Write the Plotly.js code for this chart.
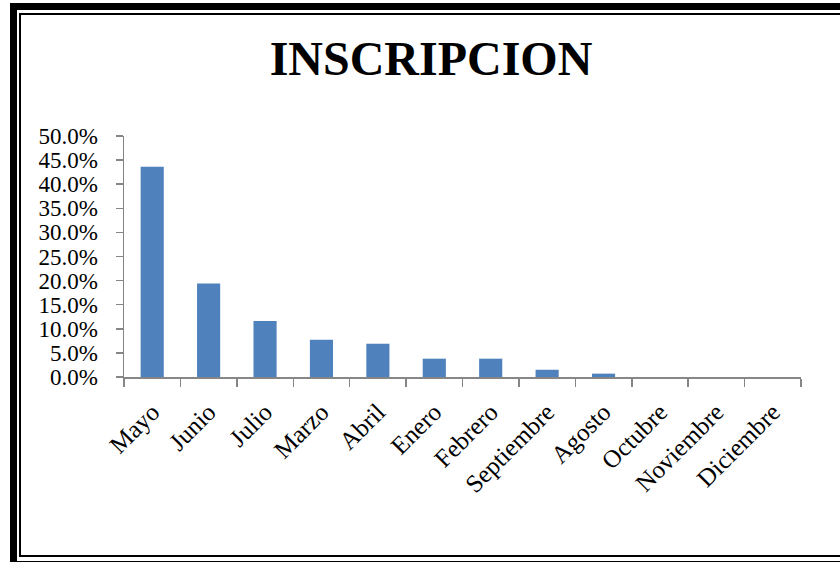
<!DOCTYPE html>
<html>
<head>
<meta charset="utf-8">
<script src="https://cdn.plot.ly/plotly-3.0.1.min.js"></script>
<style>
  html, body { margin: 0; padding: 0; background: #fff; overflow: hidden; }
  #wrap { position: relative; width: 840px; height: 562px; overflow: hidden; }
  #chart { position: absolute; left: 0; top: 0; width: 840px; height: 562px; }
  #outer { position: absolute; left: 10px; top: 3px; width: 900px; height: 551px;
           border-left: 7px solid #000; border-top: 7px solid #000; border-bottom: 3px solid #000;
           pointer-events: none; }
  #inner { position: absolute; left: 19px; top: 13px; width: 900px; height: 540px;
           border-left: 2px solid #000; border-top: 2px solid #000; border-bottom: 2px solid #000;
           pointer-events: none; }
</style>
</head>
<body>
<div id="wrap">
  <div id="chart"></div>
  <div id="outer"></div>
  <div id="inner"></div>
</div>
<script>
const months = ["Mayo","Junio","Julio","Marzo","Abril","Enero","Febrero","Septiembre","Agosto","Octubre","Noviembre","Diciembre"];
const shares = [0.436, 0.194, 0.116, 0.0775, 0.069, 0.038, 0.038, 0.015, 0.007, 0, 0, 0];
const yTicks = [0, 0.05, 0.10, 0.15, 0.20, 0.25, 0.30, 0.35, 0.40, 0.45, 0.50];
const yTickText = ["0.0%","5.0%","10.0%","15.0%","20.0%","25.0%","30.0%","35.0%","40.0%","45.0%","50.0%"];

const serif = "'Liberation Serif', 'Times New Roman', serif";
const axisGray = "#868686";

const data = [{
  type: "bar",
  x: months,
  y: shares,
  marker: { color: "#4F81BD", line: { width: 0 } },
  hoverinfo: "skip"
}];

const layout = {
  width: 840,
  height: 562,
  margin: { l: 124, r: 39, t: 136, b: 185, pad: 0 },
  paper_bgcolor: "#fff",
  plot_bgcolor: "#fff",
  showlegend: false,
  bargap: 0.59,
  title: {
    text: "<b>INSCRIPCION</b>",
    font: { family: serif, size: 48, color: "#000" },
    x: 431 / 840, xref: "container", xanchor: "center",
    y: 1 - 58 / 562, yref: "container", yanchor: "middle"
  },
  xaxis: {
    type: "category",
    tickangle: -45,
    tickson: "boundaries",
    ticks: "outside",
    ticklen: 8,
    tickwidth: 1.5,
    tickcolor: axisGray,
    showline: true,
    linecolor: axisGray,
    linewidth: 1.5,
    showgrid: false,
    zeroline: false,
    ticklabelstandoff: 9,
    tickfont: { family: serif, size: 25, color: "#000" }
  },
  yaxis: {
    range: [0, 0.5],
    tickvals: yTicks,
    ticktext: yTickText,
    ticks: "outside",
    ticklen: 7,
    tickwidth: 1.5,
    tickcolor: axisGray,
    showline: true,
    linecolor: axisGray,
    linewidth: 1.5,
    showgrid: false,
    zeroline: false,
    ticklabelstandoff: 13,
    tickfont: { family: serif, size: 23, color: "#000" }
  }
};

Plotly.newPlot("chart", data, layout, { displayModeBar: false, staticPlot: true });
</script>
</body>
</html>
